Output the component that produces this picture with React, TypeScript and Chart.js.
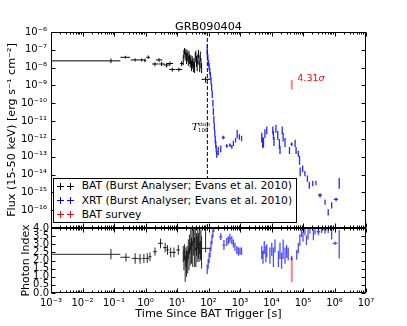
import { useEffect, useRef } from "react";
import { Chart, registerables } from "chart.js";
Chart.register(...registerables);

const N = null;
const chartTitle = "GRB090404";
const xTickValues = [1e-3, 1e-2, 1e-1, 1, 10, 100, 1e3, 1e4, 1e5, 1e6, 1e7];
const fluxDecades = [1e-17, 1e-16, 1e-15, 1e-14, 1e-13, 1e-12, 1e-11, 1e-10, 1e-9, 1e-8, 1e-7, 1e-6];
const fluxTickLabels = [1e-16, 1e-15, 1e-14, 1e-13, 1e-12, 1e-11, 1e-10, 1e-9, 1e-8, 1e-7, 1e-6];
const indexTickValues = [0, 0.5, 1, 1.5, 2, 2.5, 3, 3.5, 4];
const t100 = 92;
const sigmaLabel = "4.31";
const sigmaLabelT = 6.6e4;
const sigmaLabelF = 1.84e-9;
const t100LabelF = 3.1e-12;

// ---------- BAT flux ----------
const batFluxT = [0.08, 0.23, 0.47, 0.76, 0.96, 1.23, 2.0, 2.7, 3.25, 4.7, 6.0, 7.1, 11.5, 14.1,
  15.8, 16.6, 17.4, 18.2, 19.1, 20.0, 20.9, 21.9, 22.9, 24.0, 25.1, 26.3, 27.5, 28.8, 30.2,
  31.6, 33.1, 34.7, 36.3, 38.0, 39.8, 41.7, 43.7, 45.7, 47.9, 50.1, 52.5, 55.0, 57.5, 60.3, 81];
const batFluxTLo = [1e-4, 0.16, 0.34, 0.62, 0.9, 1.05, 1.6, 2.15, 2.6, 3.75, 4.8, 5.65, 9.2, 12.5,
  N, N, N, N, N, N, N, N, N, N, N, N, N, N, N, N, N, N, N, N, N, N, N, N, N, N, N, N, N, N, 60];
const batFluxTHi = [0.16, 0.32, 0.62, 0.9, 1.05, 1.4, 2.5, 3.4, 4.1, 5.9, 7.5, 8.9, 14.5, 15.8,
  N, N, N, N, N, N, N, N, N, N, N, N, N, N, N, N, N, N, N, N, N, N, N, N, N, N, N, N, N, N, 113];
const batFlux = [2.4e-8, 3.8e-8, 2.7e-8, 2.7e-8, 2.6e-8, 3.8e-8, 1.6e-8, 2.7e-8, 1.6e-8, 1.4e-8, 1.7e-8, 7.9e-9, 7.9e-9, 1.7e-8,
  2.8e-8, 6.3e-8, 8.9e-8, 5.0e-8, 7.9e-8, 3.5e-8, 7.1e-8, 4.5e-8, 2.5e-8, 5.6e-8, 3.2e-8, 2.0e-8, 2.8e-8, 1.4e-8, 2.5e-8,
  1.8e-8, 1.26e-8, 2.0e-8, 1.12e-8, 4.0e-8, 5.6e-8, 2.5e-8, 1.4e-8, 3.2e-8, 6.3e-8, 2.8e-8, 1.26e-8, 4.5e-8, 2.0e-8, 1.0e-8, 2.2e-9];
const batFluxLo = [1.8e-8, 3.2e-8, 2.2e-8, 2.2e-8, 2.0e-8, 3.1e-8, 1.2e-8, 2.1e-8, 1.2e-8, 1.0e-8, 1.3e-8, 6.0e-9, 6.0e-9, 1.2e-8,
  1.4e-8, 3.5e-8, 5.6e-8, 2.5e-8, 5.0e-8, 1.6e-8, 4.5e-8, 2.2e-8, 1.26e-8, 3.2e-8, 1.6e-8, 1.0e-8, 1.4e-8, 6.3e-9, 1.26e-8,
  8.9e-9, 5.6e-9, 1.0e-8, 5.0e-9, 2.0e-8, 3.2e-8, 1.12e-8, 6.3e-9, 1.6e-8, 3.5e-8, 1.4e-8, 5.6e-9, 2.2e-8, 8.9e-9, 5.0e-9, 1.4e-9];
const batFluxHi = [3.2e-8, 4.6e-8, 3.3e-8, 3.3e-8, 3.2e-8, 4.8e-8, 2.0e-8, 3.4e-8, 2.1e-8, 1.8e-8, 2.2e-8, 1.0e-8, 1.0e-8, 2.3e-8,
  5.0e-8, 1.0e-7, 1.26e-7, 7.9e-8, 1.12e-7, 6.3e-8, 1.0e-7, 7.1e-8, 4.5e-8, 8.9e-8, 5.6e-8, 3.5e-8, 5.0e-8, 2.5e-8, 4.5e-8,
  3.2e-8, 2.2e-8, 3.5e-8, 2.0e-8, 7.1e-8, 8.9e-8, 4.5e-8, 2.5e-8, 5.6e-8, 1.0e-7, 5.0e-8, 2.2e-8, 7.9e-8, 3.5e-8, 1.8e-8, 3.1e-9];

// ---------- XRT flux ----------
const xrtFluxT = [91.2, 95.5, 100, 104.7, 109.6, 114.8, 120.2, 125.9, 131.8, 138, 142.9, 147.9, 153.1, 158.5, 164.1, 169.8, 175.8, 182,
  204, 245, 295, 380, 479, 550, 617, 724, 813, 955, 1122,
  4900, 5250, 5560, 6170, 7080, 11000, 11500, 12000, 13800, 15800, 17800, 18600, 21900, 23400, 26900, 37200, 43600,
  56200, 60300, 70800, 77600, 81300, 97700, 114800, 138000, 158500, 204000, 257000, 347000, 501000, 631000, 813000, 1.12e6, 1.41e6];
const xrtFluxTLo = [N, N, N, N, N, N, N, N, N, N, N, N, N, N, N, N, N, N,
  N, N, 263, 350, 440, 520, N, N, N, N, N,
  N, N, N, N, N, N, N, N, N, N, N, N, N, N, N, N, 40000,
  N, N, N, N, N, N, N, N, N, N, N, 300000, N, N, N, 0.95e6, N];
const xrtFluxTHi = [N, N, N, N, N, N, N, N, N, N, N, N, N, N, N, N, N, N,
  N, N, 331, 412, 520, 580, N, N, N, N, N,
  N, N, N, N, N, N, N, N, N, N, N, N, N, N, N, N, 47500,
  N, N, N, N, N, N, N, N, N, N, N, 400000, N, N, N, 1.3e6, N];
const xrtFlux = [7.1e-8, 3.5e-8, 1.8e-8, 1.12e-8, 6.3e-9, 3.5e-9, 1.8e-9, 7.9e-10, 3.2e-10, 1.0e-10, 3.5e-11, 1.26e-11, 5.0e-12, 2.0e-12, 8.9e-13, 5.0e-13, 2.8e-13, 1.4e-13,
  2.3e-13, 2.95e-13, 1.2e-12, 4.0e-13, 4.5e-13, 3.6e-13, 5.6e-13, 8.5e-13, 1.86e-12, 1.3e-12, 1.07e-12,
  1.3e-12, 6.9e-13, 6.3e-13, 2.0e-12, 3.2e-12, 3.2e-12, 1.6e-12, 7.6e-13, 3.9e-12, 1.6e-12, 5.6e-13, 2.5e-13, 3.2e-12, 1.3e-12, 6.9e-13, 2.3e-13, 5.1e-13,
  5.6e-13, 2.3e-13, 1.55e-13, 6.5e-14, 1.4e-14, 2.2e-14, 1.15e-14, 6.0e-15, 2.5e-15, 3.2e-15, 3.4e-15, 6.9e-16, 2.95e-16, 7.9e-17, 1.9e-16, 4.0e-16, 3.2e-15];
const xrtFluxLo = [4.5e-8, 2.2e-8, 1.12e-8, 7.1e-9, 4.0e-9, 2.2e-9, 1.12e-9, 5.0e-10, 2.0e-10, 6.3e-11, 2.2e-11, 7.9e-12, 3.2e-12, 1.26e-12, 5.6e-13, 3.2e-13, 1.8e-13, 8.9e-14,
  1.26e-13, 1.8e-13, 9.5e-13, 3.2e-13, 3.5e-13, 2.8e-13, 4.0e-13, 6.3e-13, 1.1e-12, 9.0e-13, 7.5e-13,
  6.3e-13, 3.2e-13, 3.2e-13, 1.12e-12, 1.8e-12, 1.8e-12, 8.9e-13, 4.0e-13, 2.2e-12, 8.9e-13, 2.8e-13, 1.4e-13, 1.8e-12, 7.1e-13, 3.5e-13, 1.4e-13, 4.0e-13,
  3.5e-13, 1.4e-13, 1.0e-13, 3.5e-14, 7.9e-15, 1.4e-14, 7.9e-15, 4.0e-15, 1.6e-15, 2.2e-15, 2.5e-15, 5.0e-16, 2.0e-16, 5.0e-17, 1.26e-16, 3.2e-16, 1.6e-15];
const xrtFluxHi = [2.0e-7, 5.6e-8, 2.8e-8, 1.8e-8, 1.0e-8, 5.6e-9, 2.8e-9, 1.26e-9, 5.0e-10, 1.6e-10, 5.6e-11, 2.0e-11, 7.9e-12, 3.2e-12, 1.4e-12, 7.9e-13, 4.5e-13, 2.2e-13,
  3.6e-13, 4.2e-13, 1.5e-12, 5.0e-13, 5.6e-13, 4.5e-13, 7.9e-13, 1.12e-12, 3.2e-12, 1.8e-12, 1.5e-12,
  2.2e-12, 1.26e-12, 1.12e-12, 3.5e-12, 5.0e-12, 5.0e-12, 2.8e-12, 1.26e-12, 6.3e-12, 2.8e-12, 1.0e-12, 4.0e-13, 5.0e-12, 2.2e-12, 1.12e-12, 3.5e-13, 6.3e-13,
  8.9e-13, 3.5e-13, 2.2e-13, 1.12e-13, 2.5e-14, 3.2e-14, 1.6e-14, 8.9e-15, 4.0e-15, 4.5e-15, 4.5e-15, 8.9e-16, 4.0e-16, 1.12e-16, 2.8e-16, 5.0e-16, 6.3e-15];

// ---------- BAT survey ----------
const surveyT = [44000];
const surveyFlux = [1.1e-9];
const surveyFluxLo = [6.0e-10];
const surveyFluxHi = [2.0e-9];
const surveyIdx = [1.4];
const surveyIdxLo = [0.66];
const surveyIdxHi = [2.13];

// ---------- BAT photon index ----------
const batIdxT = [0.08, 0.24, 0.47, 0.67, 0.89, 1.14, 1.39, 2.0, 3.0, 4.2, 5.0, 6.3, 8.0, 11.0,
  15.8, 16.6, 17.4, 18.2, 19.1, 20.0, 20.9, 21.9, 22.9, 24.0, 25.1, 26.3, 27.5, 28.8, 30.2,
  31.6, 33.1, 34.7, 36.3, 38.0, 39.8, 41.7, 43.7, 45.7, 47.9, 50.1, 52.5, 55.0, 57.5, 60.3, 81];
const batIdxTLo = [1e-4, 0.16, 0.37, 0.6, 0.8, 1.0, 1.25, 1.75, 2.5, 3.6, 4.5, 5.6, 7.0, 9.5,
  N, N, N, N, N, N, N, N, N, N, N, N, N, N, N, N, N, N, N, N, N, N, N, N, N, N, N, N, N, N, 60];
const batIdxTHi = [0.16, 0.32, 0.6, 0.76, 0.98, 1.3, 1.55, 2.3, 3.6, 4.8, 5.6, 7.0, 9.1, 12.5,
  N, N, N, N, N, N, N, N, N, N, N, N, N, N, N, N, N, N, N, N, N, N, N, N, N, N, N, N, N, N, 113];
const batIdx = [2.38, 2.2, 2.13, 2.1, 2.13, 2.13, 2.23, 2.54, 3.06, 2.79, 2.65, 2.5, 2.5, 2.65,
  2.4, 2.0, 2.5, 1.5, 2.2, 1.8, 2.4, 1.9, 2.7, 2.1, 3.0, 2.4, 3.3, 2.6, 3.5,
  2.4, 3.1, 3.6, 2.5, 3.3, 2.2, 3.0, 2.7, 3.4, 2.9, 2.5, 3.2, 2.6, 3.0, 2.5, 2.75];
const batIdxLo = [2.07, 1.93, 1.8, 1.8, 1.85, 1.85, 1.95, 2.3, 2.75, 2.5, 2.35, 2.2, 2.2, 2.35,
  1.9, 1.4, 2.0, 0.68, 1.6, 1.0, 1.9, 1.2, 2.1, 1.4, 2.4, 1.7, 2.6, 1.8, 2.9,
  1.6, 2.3, 3.1, 1.6, 2.6, 1.6, 2.3, 1.9, 2.7, 2.1, 1.9, 2.4, 2.0, 2.1, 1.5, 2.5];
const batIdxHi = [2.71, 2.44, 2.45, 2.4, 2.4, 2.45, 2.5, 2.8, 3.35, 3.1, 2.95, 2.8, 2.8, 2.95,
  2.9, 2.6, 3.0, 2.3, 2.8, 2.6, 2.9, 2.6, 3.3, 2.8, 3.6, 3.1, 4.0, 3.4, 4.1,
  3.2, 3.9, 4.1, 3.4, 4.0, 2.8, 3.7, 3.5, 4.1, 3.7, 3.1, 4.0, 3.2, 3.9, 3.5, 4.5];

// ---------- XRT photon index ----------
const xrtIdxT = [91.2, 97.7, 104.7, 112.2, 120.2, 128.8, 138, 147.9,
  245, 309, 380, 427, 479, 550, 617, 692, 794, 891, 1000, 1122,
  4900, 5370, 5890, 6610, 7080, 8910, 10200, 11500, 12900, 16600, 18600, 20900, 23400, 26900, 30200, 33900,
  43600, 63100, 70800, 79400, 89100, 100000, 114800, 128800, 144500, 166000, 213800, 239900, 309000, 389000, 501000, 631000, 813000, 1.05e6, 1.41e6];
const xrtIdxTLo = [N, N, N, N, N, N, N, N,
  219, 275, N, N, 440, N, N, N, N, N, N, N,
  N, N, N, N, N, N, N, N, N, N, N, N, N, N, N, N,
  40000, N, N, N, N, N, N, N, N, N, N, N, 270000, N, 440000, N, N, 0.87e6, N];
const xrtIdxTHi = [N, N, N, N, N, N, N, N,
  275, 345, N, N, 520, N, N, N, N, N, N, N,
  N, N, N, N, N, N, N, N, N, N, N, N, N, N, N, N,
  47500, N, N, N, N, N, N, N, N, N, N, N, 350000, N, 570000, N, N, 1.23e6, N];
const xrtIdx = [1.45, 1.8, 2.15, 2.5, 2.9, 3.3, 3.7, 4.05,
  3.46, 2.95, 3.16, 3.26, 3.37, 3.26, 3.06, 2.85, 2.65, 2.54, 2.58, 2.58,
  2.5, 2.2, 2.8, 2.4, 2.6, 2.3, 2.7, 2.2, 2.9, 2.1, 2.6, 2.0, 2.7, 2.3, 2.55, 2.4,
  2.13, 2.34, 2.77, 3.26, 3.77, 3.46, 3.88, 3.26, 3.63, 3.98, 3.57, 3.88, 3.77, 3.94, 3.88, 3.94, 3.67, 3.06, 3.06];
const xrtIdxLo = [1.17, 1.5, 1.85, 2.2, 2.6, 3.0, 3.4, 3.75,
  3.26, 2.65, 2.9, 3.0, 3.1, 3.0, 2.8, 2.6, 2.4, 2.3, 2.35, 2.35,
  2.1, 1.8, 2.4, 1.9, 2.2, 1.8, 2.3, 1.6, 2.5, 1.6, 2.1, 1.5, 2.1, 1.8, 2.15, 2.0,
  2.0, 2.05, 2.45, 2.9, 3.45, 3.15, 3.55, 2.95, 3.3, 3.65, 3.25, 3.6, 3.55, 3.7, 3.65, 3.7, 3.3, 2.95, 2.13];
const xrtIdxHi = [1.75, 2.1, 2.45, 2.8, 3.2, 3.6, 4.0, 4.35,
  3.67, 3.26, 3.4, 3.5, 3.65, 3.5, 3.3, 3.1, 2.9, 2.8, 2.8, 2.8,
  2.9, 2.6, 3.2, 2.9, 3.0, 2.8, 3.1, 2.8, 3.3, 2.6, 3.1, 2.5, 3.3, 2.8, 2.95, 2.8,
  2.3, 2.65, 3.1, 3.6, 4.1, 3.75, 4.2, 3.55, 3.95, 4.3, 3.9, 4.15, 4.0, 4.2, 4.1, 4.2, 4.05, 3.17, 3.88];

const legendItems = [
  { label: "BAT (Burst Analyser; Evans et al. 2010)", color: "#000000" },
  { label: "XRT (Burst Analyser; Evans et al. 2010)", color: "#0000ff" },
  { label: "BAT survey", color: "#ff0000" },
];

const SUP: Record<string, string> = { "-": "⁻", "0": "⁰", "1": "¹", "2": "²", "3": "³", "4": "⁴", "5": "⁵", "6": "⁶", "7": "⁷", "8": "⁸", "9": "⁹" };
const powLabel = (v: number) => "10" + String(Math.round(Math.log10(v))).split("").map((c) => SUP[c]).join("");

type Num = number | null;
function errorSegments(t: number[], tLo: Num[], tHi: Num[], v: number[], lo: number[], hi: number[]) {
  const pts: { x: number; y: number | null }[] = [];
  t.forEach((ti, i) => {
    const a = tLo[i], b = tHi[i];
    if (a != null && b != null) pts.push({ x: a, y: v[i] }, { x: b, y: v[i] }, { x: ti, y: null });
    pts.push({ x: ti, y: lo[i] }, { x: ti, y: hi[i] }, { x: ti, y: null });
  });
  return pts;
}

function lineSet(data: any[], yAxisID: string, color: string, width: number, dash?: number[]) {
  return {
    type: "line" as const,
    data,
    yAxisID,
    xAxisID: "x",
    borderColor: color,
    backgroundColor: color,
    borderWidth: width,
    borderDash: dash || [],
    pointRadius: 0,
    pointHoverRadius: 0,
    spanGaps: false,
    fill: false,
    tension: 0,
  };
}

const FONT = '"DejaVu Sans"';

const frameTicks = {
  id: "frameTicks",
  afterDatasetsDraw(chart: any) {
    const { ctx } = chart;
    const xs = chart.scales.x;
    const L = Math.round(xs.left) + 0.5;
    const R = Math.round(xs.right) - 0.5;
    const minors: number[] = [];
    xTickValues.slice(0, -1).forEach((d) => { for (let k = 2; k <= 9; k++) minors.push(d * k); });
    const panels = [
      { s: chart.scales.y, marks: fluxDecades },
      { s: chart.scales.y2, marks: indexTickValues },
    ];
    ctx.save();
    ctx.strokeStyle = "#000";
    ctx.lineWidth = 1;
    for (const p of panels) {
      const T = Math.round(p.s.top) + 0.5;
      const B = Math.round(p.s.bottom) - 0.5;
      ctx.strokeRect(L, T, R - L, B - T);
      ctx.beginPath();
      for (const v of xTickValues) {
        const px = Math.round(xs.getPixelForValue(v)) + 0.5;
        ctx.moveTo(px, T); ctx.lineTo(px, T + 4);
        ctx.moveTo(px, B); ctx.lineTo(px, B - 4);
      }
      for (const v of minors) {
        const px = Math.round(xs.getPixelForValue(v)) + 0.5;
        ctx.moveTo(px, T); ctx.lineTo(px, T + 2);
        ctx.moveTo(px, B); ctx.lineTo(px, B - 2);
      }
      for (const v of p.marks) {
        const py = Math.round(p.s.getPixelForValue(v)) + 0.5;
        ctx.moveTo(L, py); ctx.lineTo(L + 4, py);
        ctx.moveTo(R, py); ctx.lineTo(R - 4, py);
      }
      ctx.stroke();
    }
    ctx.restore();
  },
};

const annotations = {
  id: "annotations",
  afterDraw(chart: any) {
    const { ctx } = chart;
    const xs = chart.scales.x;
    const ys = chart.scales.y;
    ctx.save();
    ctx.fillStyle = "#000";
    ctx.font = `11.2px ${FONT}`;
    ctx.textAlign = "center";
    ctx.textBaseline = "alphabetic";
    ctx.fillText(chartTitle, (xs.left + xs.right) / 2, ys.top - 2.5);

    const sx = xs.getPixelForValue(sigmaLabelT);
    const sy = ys.getPixelForValue(sigmaLabelF);
    ctx.fillStyle = "#ff0000";
    ctx.textAlign = "left";
    ctx.font = `9.5px ${FONT}`;
    ctx.fillText(sigmaLabel, sx, sy);
    const w = ctx.measureText(sigmaLabel).width;
    ctx.font = `italic 9.5px ${FONT}`;
    ctx.fillText("σ", sx + w, sy);

    const lx = xs.getPixelForValue(t100);
    const ly = ys.getPixelForValue(t100LabelF);
    ctx.fillStyle = "#000";
    ctx.font = `italic 10px "DejaVu Serif"`;
    ctx.fillText("T", lx - 15.5, ly);
    ctx.font = `5.5px "DejaVu Serif"`;
    ctx.fillText("stop", lx - 9.3, ly - 4.5);
    ctx.fillText("100", lx - 9.3, ly + 1.5);
    ctx.restore();
  },
};

function Cross({ cx, cy, color }: { cx: number; cy: number; color: string }) {
  return (
    <>
      <div style={{ position: "absolute", left: cx - 3.5, top: cy - 0.5, width: 7, height: 1, background: color }} />
      <div style={{ position: "absolute", left: cx - 0.5, top: cy - 3.5, width: 1, height: 7, background: color }} />
    </>
  );
}

export default function App() {
  const ref = useRef<HTMLCanvasElement>(null);
  useEffect(() => {
    const datasets: any[] = [
      lineSet(errorSegments(batFluxT, batFluxTLo, batFluxTHi, batFlux, batFluxLo, batFluxHi), "y", "#000000", 1),
      lineSet(errorSegments(xrtFluxT, xrtFluxTLo, xrtFluxTHi, xrtFlux, xrtFluxLo, xrtFluxHi), "y", "rgba(0,0,255,0.85)", 1.3),
      lineSet(errorSegments(surveyT, [N], [N], surveyFlux, surveyFluxLo, surveyFluxHi), "y", "rgba(255,0,0,0.5)", 2),
      lineSet([{ x: t100, y: fluxDecades[0] }, { x: t100, y: fluxDecades[fluxDecades.length - 1] }], "y", "#000000", 1, [4, 2]),
      lineSet(errorSegments(batIdxT, batIdxTLo, batIdxTHi, batIdx, batIdxLo, batIdxHi), "y2", "rgba(0,0,0,0.85)", 1),
      lineSet(errorSegments(xrtIdxT, xrtIdxTLo, xrtIdxTHi, xrtIdx, xrtIdxLo, xrtIdxHi), "y2", "rgba(0,0,255,0.7)", 1.3),
      lineSet(errorSegments(surveyT, [N], [N], surveyIdx, surveyIdxLo, surveyIdxHi), "y2", "rgba(255,0,0,0.5)", 2),
    ];
    const chart = new Chart(ref.current!, {
      type: "line",
      data: { datasets },
      plugins: [frameTicks, annotations],
      options: {
        responsive: false,
        animation: false,
        events: [],
        devicePixelRatio: 1,
        layout: { padding: { left: 0, top: 32, right: 41, bottom: 0 } },
        plugins: { legend: { display: false }, title: { display: false }, tooltip: { enabled: false } },
        scales: {
          x: {
            type: "logarithmic",
            position: "bottom",
            min: 1e-3,
            max: 1e7,
            afterBuildTicks: (s: any) => { s.ticks = xTickValues.map((v) => ({ value: v })); },
            afterFit: (s: any) => { s.height = 33; },
            grid: { display: false, drawTicks: false },
            border: { display: false },
            ticks: { autoSkip: false, maxRotation: 0, minRotation: 0, padding: 4, color: "#000", font: { family: FONT, size: 10 }, callback: (v: any) => powLabel(Number(v)) },
            title: { display: true, text: "Time Since BAT Trigger [s]", color: "#000", font: { family: FONT, size: 11.2 }, padding: { top: 0, bottom: 5 } },
          },
          y2: {
            type: "linear",
            position: "left",
            stack: "panels",
            stackWeight: 65,
            weight: 1,
            min: 0,
            max: 4,
            afterBuildTicks: (s: any) => { s.ticks = indexTickValues.map((v) => ({ value: v })); },
            afterFit: (s: any) => { s.width = 51; },
            grid: { display: false, drawTicks: false },
            border: { display: false },
            ticks: { autoSkip: false, padding: 2, color: "#000", font: { family: FONT, size: 10 }, callback: (v: any) => Number(v).toFixed(1) },
            title: { display: true, text: "Photon Index", color: "#000", font: { family: FONT, size: 11 }, padding: { top: 19.4, bottom: 0 } },
          },
          y: {
            type: "logarithmic",
            position: "left",
            stack: "panels",
            stackWeight: 196,
            weight: 2,
            min: fluxDecades[0],
            max: fluxDecades[fluxDecades.length - 1],
            afterBuildTicks: (s: any) => { s.ticks = fluxTickLabels.map((v) => ({ value: v })); },
            afterFit: (s: any) => { s.width = 51; },
            grid: { display: false, drawTicks: false },
            border: { display: false },
            ticks: { autoSkip: false, padding: 4, color: "#000", font: { family: FONT, size: 10 }, callback: (v: any) => powLabel(Number(v)) },
            title: { display: true, text: "Flux (15-50 keV) [erg s⁻¹ cm⁻²]", color: "#000", font: { family: FONT, size: 11.2 }, padding: { top: 5.3, bottom: 0 } },
          },
        },
      } as any,
    });
    return () => chart.destroy();
  }, []);

  const rowCenters = [7, 21.5, 35.5];
  return (
    <div style={{ position: "absolute", left: 0, top: 0, width: 407, height: 326, background: "#fff" }}>
      <canvas ref={ref} width={407} height={326} style={{ display: "block", width: 407, height: 326 }} />
      <div
        style={{
          position: "absolute",
          left: 53,
          top: 178,
          width: 244,
          height: 45,
          boxSizing: "border-box",
          border: "1px solid #000",
          background: "#fff",
          fontFamily: "DejaVu Sans",
          fontSize: 10.7,
          color: "#000",
        }}
      >
        {legendItems.map((it, i) => (
          <div key={it.label}>
            <Cross cx={6} cy={rowCenters[i]} color={it.color} />
            <Cross cx={16} cy={rowCenters[i]} color={it.color} />
            <div style={{ position: "absolute", left: 27.7, top: rowCenters[i] - 7, height: 14, lineHeight: "14px", whiteSpace: "nowrap" }}>{it.label}</div>
          </div>
        ))}
      </div>
    </div>
  );
}
